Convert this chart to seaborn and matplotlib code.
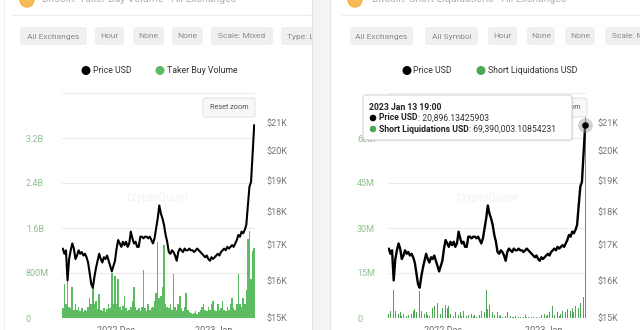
import numpy as np
import pandas as pd
import matplotlib
matplotlib.use("Agg")
import matplotlib.pyplot as plt
import matplotlib.dates as mdates
from matplotlib.patches import FancyBboxPatch, Rectangle, Circle
from matplotlib.ticker import NullLocator
import seaborn as sns

sns.set_theme(style="white")
plt.rcParams["font.family"] = ["Roboto", "DejaVu Sans"]

W, H = 640, 330

# ---- data: 12-hour samples, 2022-11-14 07:00 .. 2023-01-13 19:00 ----
start_time = "2022-11-14 07:00"

price_usd = [
    16900, 16750, 16850, 16000, 16600, 16850, 17050, 16900, 16600, 16700,
    16850, 16750, 16800, 16700, 16750, 16650, 16500, 16200, 15900, 15800,
    16100, 16350, 16550, 16750, 16600, 16500, 16650, 16600, 16700, 16550,
    16400, 16250, 16400, 16550, 16900, 17150, 17050, 16950, 17100, 17000,
    17100, 16950, 17050, 17400, 17200, 17050, 17100, 16950, 16950, 17250,
    17250, 17200, 17250, 17250, 17200, 17250, 17150, 17050, 17200, 17500,
    17800, 18200, 17950, 17800, 17600, 17300, 17100, 16800, 16750, 16850,
    16800, 16700, 16550, 16800, 16900, 16850, 16800, 16900, 16850, 16850,
    16900, 16850, 16850, 16800, 16850, 16900, 16850, 16800, 16750, 16700,
    16650, 16700, 16600, 16550, 16650, 16600, 16650, 16700, 16750, 16700,
    16800, 16850, 16900, 16850, 16950, 16900, 16950, 17000, 16950, 17050,
    17150, 17300, 17250, 17400, 17350, 17450, 17600, 18200, 18800, 18950,
    19900, 20896.13425903,
]

taker_buy_volume_musd = [
    180, 600, 250, 650, 200, 180, 550, 150, 250, 150,
    200, 120, 180, 110, 150, 130, 200, 350, 250, 550,
    250, 300, 160, 420, 150, 120, 180, 110, 160, 250,
    180, 800, 250, 750, 250, 700, 200, 150, 220, 400,
    180, 120, 150, 200, 300, 550, 200, 150, 180, 120,
    200, 850, 180, 120, 250, 150, 180, 200, 300, 450,
    1350, 350, 400, 550, 1300, 250, 200, 180, 250, 150,
    780, 200, 150, 250, 400, 180, 120, 200, 450, 150,
    100, 90, 70, 90, 120, 80, 100, 150, 200, 250,
    150, 120, 200, 140, 250, 300, 150, 120, 250, 150,
    180, 300, 150, 120, 200, 150, 250, 350, 180, 150,
    250, 780, 250, 200, 350, 250, 500, 1400, 1550, 700,
    1200, 1250,
]

short_liquidations_usd = [
    1.5e6, 2.5e6, 1.0e6, 9.5e6, 2.5e6, 3.0e6, 1.5e6, 2.0e6, 0.8e6, 1.2e6,
    2.5e6, 0.8e6, 1.0e6, 2.0e6, 1.5e6, 2.5e6, 3.0e6, 2.0e6, 3.5e6, 9.0e6,
    2.5e6, 3.0e6, 1.5e6, 2.0e6, 1.0e6, 0.8e6, 1.5e6, 3.5e6, 4.0e6, 2.5e6,
    5.0e6, 3.0e6, 1.5e6, 3.5e6, 9.0e6, 4.5e6, 3.5e6, 4.0e6, 1.5e6, 1.0e6,
    0.8e6, 2.0e6, 1.5e6, 1.0e6, 2.0e6, 0.8e6, 2.5e6, 1.0e6, 0.8e6, 1.0e6,
    6.5e6, 1.5e6, 0.8e6, 1.0e6, 0.5e6, 1.5e6, 1.0e6, 2.5e6, 3.5e6, 2.0e6,
    9.5e6, 3.0e6, 4.5e6, 7.0e6, 2.0e6, 1.0e6, 1.5e6, 2.0e6, 0.8e6, 1.0e6,
    0.5e6, 1.5e6, 0.8e6, 2.0e6, 0.5e6, 0.8e6, 0.4e6, 0.5e6, 0.8e6, 0.3e6,
    0.4e6, 0.3e6, 0.5e6, 0.4e6, 1.0e6, 0.5e6, 0.3e6, 1.5e6, 0.4e6, 0.5e6,
    1.0e6, 0.3e6, 1.2e6, 0.5e6, 1.0e6, 0.4e6, 1.5e6, 0.8e6, 1.0e6, 2.0e6,
    0.8e6, 4.0e6, 1.0e6, 1.5e6, 2.0e6, 0.8e6, 1.5e6, 2.5e6, 1.0e6, 2.0e6,
    3.0e6, 12.5e6, 2.5e6, 3.5e6, 2.0e6, 4.0e6, 3.0e6, 3.5e6, 5.0e6, 14.0e6,
    7.0e6, 69390003.10854231,
]

volume_ticks = [0, 800, 1600, 2400, 3200, 4000]
volume_labels = ["0", "800M", "1.6B", "2.4B", "3.2B", ""]
liq_ticks = [0, 15e6, 30e6, 45e6, 60e6, 75e6]
liq_labels = ["0", "15M", "30M", "45M", "60M", ""]
price_ticks = [15000, 16000, 17000, 18000, 19000, 20000, 21000]
price_labels = ["$15K", "$16K", "$17K", "$18K", "$19K", "$20K", "$21K"]
month_ticks = ["2022-12-01", "2023-01-01"]
month_labels = ["2022 Dec", "2023 Jan"]
hover_time = "2023 Jan 13 19:00"

left_buttons = ["All Exchanges", "Hour", "None", "None", "Scale: Mixed", "Type: Line"]
right_buttons = ["All Exchanges", "All Symbol", "Hour", "None", "None", "Scale: Mixed"]

times = pd.date_range(start_time, periods=len(price_usd), freq="12h")
xnum = mdates.date2num(times.to_pydatetime())
step = float(xnum[1] - xnum[0])
x_lo, x_hi = float(xnum[0] - step / 2), float(xnum[-1] + step / 2)

GREEN_L = "#5dbb61"
GREEN_R = "#4ca752"
PLOT_TOP, PLOT_BOT = 93, 318
PX_PER_LN = 582.0

fig = plt.figure(figsize=(W / 100, H / 100), dpi=100)
fig.patch.set_facecolor("white")


def px_axes(x0, x1, z):
    a = fig.add_axes([x0 / W, 0, (x1 - x0) / W, 1])
    a.set_xlim(x0, x1)
    a.set_ylim(H, 0)
    a.axis("off")
    a.set_zorder(z)
    a.patch.set_visible(False)
    return a


# page background and card edges
bg = px_axes(0, W, 0)
bg.add_patch(Rectangle((312, 0), 18, H, facecolor="#f4f4f5", edgecolor="none"))
bg.plot([312, 312], [0, H], color="#e2e2e2", lw=0.8)
bg.plot([330, 330], [0, H], color="#e2e2e2", lw=0.8)
bg.plot([4, 4], [0, H], color="#ededed", lw=0.8)


def card(x0, x1, title, buttons, btn_spans, legend_items, wm_x):
    c = px_axes(x0, x1, 0.5)
    c.add_patch(Circle((x0 + 27 - (0 if x0 == 0 else 2), 0), 7, color="#f5a623", alpha=0.75, clip_on=True))
    c.text(x0 + 42, -1, title, fontsize=7.5, color="#b0b0b0", va="center", ha="left", clip_on=True)
    c.plot([x0 + 12, x1], [15, 15], color="#ececec", lw=0.8)
    for label, (b0, b1) in zip(buttons, btn_spans):
        c.add_patch(FancyBboxPatch((b0, 27), b1 - b0, 18,
                                   boxstyle="round,pad=0,rounding_size=3",
                                   facecolor="#f0f0f1", edgecolor="none", clip_on=True))
        c.text((b0 + b1) / 2, 36.5, label, fontsize=6, color="#8a8a8a",
               ha="center", va="center", clip_on=True)
    for (cx, tx, col, txt) in legend_items:
        c.add_patch(Circle((cx, 70.5), 3.8, color=col))
        c.text(tx, 70.5, txt, fontsize=6.3, color="#333333", ha="left", va="center")
    c.text(wm_x, 198, "CryptoQuant", fontsize=8, color="#f3f3f3", ha="center", va="center")
    return c


card(0, 312, "Bitcoin: Taker Buy Volume - All Exchanges", left_buttons,
     [(20, 87), (95, 124), (133, 164), (172, 203), (211, 273), (281, 330)],
     [(86, 93, "black", "Price USD"), (160, 167, GREEN_L, "Taker Buy Volume")], 157)
card(330, 640, "Bitcoin: Short Liquidations - All Exchanges", right_buttons,
     [(350, 413), (425, 478), (488, 517), (527, 555), (565, 595), (605, 667)],
     [(407, 413, "black", "Price USD"), (481, 488, GREEN_R, "Short Liquidations USD")], 487)


def panel(left_px, right_px, bars, bar_max, ticks, labels, color, shrink, lw, pad_pt):
    ax = fig.add_axes([left_px / W, (H - PLOT_BOT) / H,
                       (right_px - left_px) / W, (PLOT_BOT - PLOT_TOP) / H])
    ax.set_zorder(1)
    ax.patch.set_visible(False)
    df = pd.DataFrame({"t": xnum, "v": bars})
    sns.histplot(data=df, x="t", weights="v", binwidth=step, binrange=(x_lo, x_hi),
                 ax=ax, color=color, alpha=1, linewidth=0, shrink=shrink)
    ax.set_ylim(0, bar_max)
    ax.set_yticks(ticks)
    ax.set_yticklabels(labels)
    ax.set_xlim(x_lo, x_hi)
    ax.set_xticks(mdates.date2num(pd.to_datetime(month_ticks).to_pydatetime()))
    ax.set_xticklabels(month_labels)
    ax.tick_params(axis="y", length=0, pad=pad_pt, labelsize=6.5, labelcolor="#8dbf8d")
    ax.tick_params(axis="x", length=0, pad=6, labelsize=6.5, labelcolor="#666666")
    for t in ax.get_yticklabels():
        t.set_horizontalalignment("left")
    ax.grid(axis="y", color="#ebebeb", lw=0.8)
    ax.grid(axis="x", visible=False)
    ax.set_axisbelow(True)
    ax.set_xlabel("")
    ax.set_ylabel("")
    for s in ax.spines.values():
        s.set_visible(False)

    ax2 = ax.twinx()
    ax2.set_zorder(2)
    sns.lineplot(x=xnum, y=price_usd, ax=ax2, color="black", lw=lw)
    ax2.set_yscale("log")
    ax2.set_ylim(15000, 15000 * np.exp((PLOT_BOT - PLOT_TOP) / PX_PER_LN))
    ax2.set_yticks(price_ticks)
    ax2.set_yticklabels(price_labels)
    ax2.yaxis.set_minor_locator(NullLocator())
    ax2.tick_params(axis="y", length=0, pad=8.5, labelsize=6.5, labelcolor="#777777")
    ax2.set_ylabel("")
    ax2.set_xlim(x_lo, x_hi)
    for s in ax2.spines.values():
        s.set_visible(False)
    return ax, ax2


axL, axL2 = panel(62, 255, taker_buy_volume_musd, 4000, volume_ticks, volume_labels,
                  GREEN_L, 1.0, 1.5, 26)
axR, axR2 = panel(388, 586, short_liquidations_usd, 75e6, liq_ticks, liq_labels,
                  GREEN_R, 0.45, 1.7, 22.3)

# hovered point on the right panel
axR2.scatter([xnum[-1]], [price_usd[-1]], s=110, color="#9a9a9a", alpha=0.45,
             clip_on=False, zorder=5, linewidths=0)
axR2.scatter([xnum[-1]], [price_usd[-1]], s=14, color="black", clip_on=False, zorder=6)

# overlay: zoom buttons and tooltip
ov = px_axes(0, W, 5)
for bx in (203, 535):
    ov.add_patch(FancyBboxPatch((bx, 98), 52, 19, boxstyle="round,pad=0,rounding_size=2",
                                facecolor="#f8f8f8", edgecolor="#dcdcdc", lw=0.6, zorder=1))
    ov.text(bx + 26, 107.5, "Reset zoom", fontsize=5.2, color="#555555",
            ha="center", va="center", zorder=2)

ov.add_patch(FancyBboxPatch((364.5, 96.5), 209, 45, boxstyle="round,pad=0,rounding_size=3",
                            facecolor="#000000", alpha=0.06, edgecolor="none", zorder=3))
ov.add_patch(FancyBboxPatch((363, 95), 209, 45, boxstyle="round,pad=0,rounding_size=3",
                            facecolor="white", edgecolor="#cfcfcf", lw=0.7, zorder=4))
ov.text(369, 107, hover_time, fontsize=6.2, fontweight="bold", color="#222222",
        ha="left", va="center", zorder=5)

rows = [
    (118, "black", "Price USD", f": {price_usd[-1]:,}"),
    (129, GREEN_R, "Short Liquidations USD", f": {short_liquidations_usd[-1]:,}"),
]
for y, col, name, val in rows:
    ov.add_patch(Circle((373, y), 2.6, color=col, zorder=5))
    t1 = ov.text(379, y, name, fontsize=6.2, fontweight="bold", color="#222222",
                 ha="left", va="center", zorder=5)
    ov.annotate(val, xy=(1, 0), xycoords=t1, xytext=(0, 0), textcoords="offset points",
                fontsize=6.2, color="#333333", ha="left", va="bottom", zorder=5)

fig.savefig("out.png", dpi=100, facecolor="white")
